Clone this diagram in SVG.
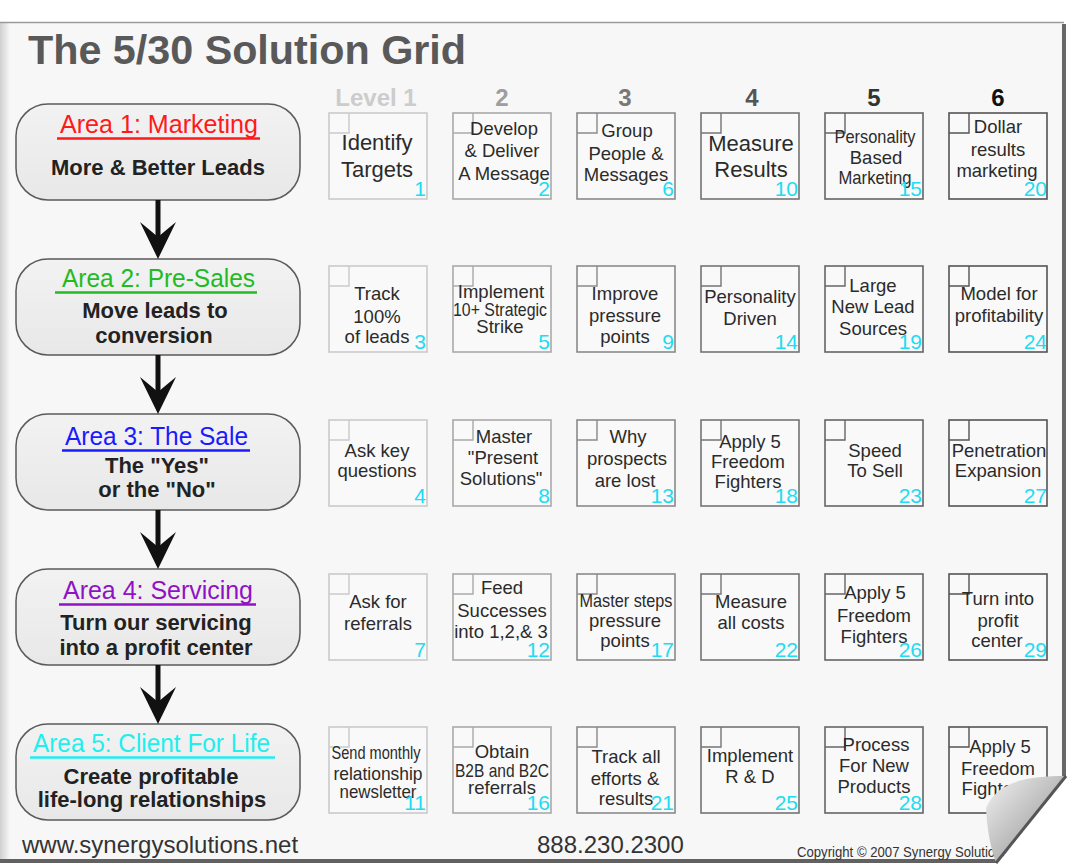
<svg xmlns="http://www.w3.org/2000/svg" width="1072" height="866" viewBox="0 0 1072 866">
<style>
text{font-family:"Liberation Sans",Arial,sans-serif}
.title{font-size:40px;font-weight:bold;fill:#595959}
.lvl{font-size:24px;font-weight:bold;text-anchor:middle}
.abox{fill:url(#boxg);stroke:#5a5a5a;stroke-width:1.5}
.at{font-size:26px;text-anchor:middle}
.sub{font-size:22px;font-weight:bold;fill:#222;text-anchor:middle}
.frame{fill:#f9f9f9;stroke-width:1.6}
.corner{fill:none;stroke-width:1.4}
.ct{font-size:18.5px;fill:#2b2b2b;text-anchor:middle}
.big{font-size:22px}
.num{font-size:21px;fill:#20dcf2;text-anchor:end}
.k1 .frame,.k1 .corner{stroke:#cacaca}
.k2 .frame,.k2 .corner{stroke:#a9a9a9}
.k3 .frame,.k3 .corner{stroke:#8a8a8a}
.k4 .frame,.k4 .corner{stroke:#747474}
.k5 .frame,.k5 .corner{stroke:#656565}
.k6 .frame,.k6 .corner{stroke:#545454}
.foot{font-size:24px;fill:#333}
.conn{stroke:#111;stroke-width:5;fill:none;marker-end:url(#head)}
</style>
<defs>
<linearGradient id="boxg" x1="0" y1="0" x2="0" y2="1">
<stop offset="0" stop-color="#f2f2f2"/><stop offset="1" stop-color="#e8e8e8"/>
</linearGradient>
<linearGradient id="leftg" x1="0" y1="0" x2="1" y2="0">
<stop offset="0" stop-color="#cfcfcf"/><stop offset="1" stop-color="#f7f7f7"/>
</linearGradient>
<linearGradient id="curlg" x1="0" y1="0" x2="1" y2="1">
<stop offset="0" stop-color="#f2f2f2"/><stop offset="0.55" stop-color="#b8b8b8"/><stop offset="1" stop-color="#5e5e5e"/>
</linearGradient>
<marker id="head" markerUnits="userSpaceOnUse" viewBox="-40 -20 42 40" markerWidth="42" markerHeight="40" refX="-20" refY="0" orient="auto" overflow="visible">
<path d="M0,0 L-37,-18 Q-28,-7 -22,0 Q-28,7 -37,18 Z" fill="#111"/>
</marker>
</defs>

<g id="page">
<rect x="0" y="0" width="1072" height="866" fill="#ffffff"/>
<rect x="0" y="22" width="1064" height="840" fill="#f7f7f7"/>
<rect x="0" y="22" width="10" height="840" fill="url(#leftg)"/>
<line x1="0" y1="22.5" x2="1064" y2="22.5" stroke="#9a9a9a" stroke-width="1.5"/>
<rect x="1062" y="24" width="4" height="758" fill="#686868"/>
<rect x="0" y="859" width="998" height="4" fill="#616161"/>
</g>

<text class="title" x="28" y="64" textLength="438" lengthAdjust="spacingAndGlyphs">The 5/30 Solution Grid</text>

<g id="levels">
<text class="lvl" x="376" y="106" fill="#cccccc">Level 1</text>
<text class="lvl" x="502" y="106" fill="#9e9e9e">2</text>
<text class="lvl" x="625" y="106" fill="#787878">3</text>
<text class="lvl" x="752" y="106" fill="#555555">4</text>
<text class="lvl" x="874" y="106" fill="#333333">5</text>
<text class="lvl" x="998" y="106" fill="#111111">6</text>
</g>

<g id="area1">
<rect class="abox" x="16" y="104" width="284" height="96" rx="32"/>
<text class="at" x="159" y="133" fill="#ff1a1a" textLength="198" lengthAdjust="spacingAndGlyphs">Area 1: Marketing</text>
<line x1="57" y1="138.5" x2="260" y2="138.5" stroke="#ff1a1a" stroke-width="2.5"/>
<text class="sub" x="158" y="175">More &amp; Better Leads</text>
</g>
<g id="area2">
<rect class="abox" x="16" y="259" width="284" height="96" rx="32"/>
<text class="at" x="158.5" y="287" fill="#22bb22" textLength="193" lengthAdjust="spacingAndGlyphs">Area 2: Pre-Sales</text>
<line x1="55" y1="292.5" x2="257" y2="292.5" stroke="#22bb22" stroke-width="2.5"/>
<text class="sub" x="155" y="318">Move leads to</text>
<text class="sub" x="154" y="343">conversion</text>
</g>
<g id="area3">
<rect class="abox" x="16" y="414" width="284" height="96" rx="32"/>
<text class="at" x="156.5" y="445" fill="#1a1aff" textLength="183" lengthAdjust="spacingAndGlyphs">Area 3: The Sale</text>
<line x1="62" y1="450.5" x2="250" y2="450.5" stroke="#1a1aff" stroke-width="2.5"/>
<text class="sub" x="157" y="473">The "Yes"</text>
<text class="sub" x="157" y="497">or the "No"</text>
</g>
<g id="area4">
<rect class="abox" x="16" y="569" width="284" height="96" rx="32"/>
<text class="at" x="158" y="599" fill="#9012c4" textLength="190" lengthAdjust="spacingAndGlyphs">Area 4: Servicing</text>
<line x1="59" y1="604.5" x2="256" y2="604.5" stroke="#9012c4" stroke-width="2.5"/>
<text class="sub" x="156" y="630">Turn our servicing</text>
<text class="sub" x="156" y="655">into a profit center</text>
</g>
<g id="area5">
<rect class="abox" x="16" y="724" width="284" height="96" rx="32"/>
<text class="at" x="151.5" y="752" fill="#22eeee" textLength="237" lengthAdjust="spacingAndGlyphs">Area 5: Client For Life</text>
<line x1="30" y1="757.5" x2="275" y2="757.5" stroke="#22eeee" stroke-width="2.5"/>
<text class="sub" x="151" y="784">Create profitable</text>
<text class="sub" x="152" y="807">life-long relationships</text>
</g>

<g id="connectors">
<line class="conn" x1="158" y1="200" x2="158" y2="239"/>
<line class="conn" x1="158" y1="355" x2="158" y2="394"/>
<line class="conn" x1="158" y1="510" x2="158" y2="549"/>
<line class="conn" x1="158" y1="665" x2="158" y2="704"/>
</g>

<!-- Row 1 -->
<g id="cell-1" class="k1"><rect class="frame" x="329" y="113" width="98" height="86"/><path class="corner" d="M329,133 H349 V113"/>
<text class="ct big" x="377" y="150">Identify</text><text class="ct big" x="377" y="177">Targets</text><text class="num" x="426" y="196">1</text></g>
<g id="cell-2" class="k2"><rect class="frame" x="453" y="113" width="98" height="86"/><path class="corner" d="M453,133 H473 V113"/>
<text class="ct" x="504" y="135">Develop</text><text class="ct" x="502" y="157">&amp; Deliver</text><text class="ct" x="504" y="180">A Message</text><text class="num" x="550" y="196">2</text></g>
<g id="cell-6" class="k3"><rect class="frame" x="577" y="113" width="98" height="86"/><path class="corner" d="M577,133 H597 V113"/>
<text class="ct" x="627" y="137">Group</text><text class="ct" x="626" y="160">People &amp;</text><text class="ct" x="626" y="181">Messages</text><text class="num" x="674" y="196">6</text></g>
<g id="cell-10" class="k4"><rect class="frame" x="701" y="113" width="98" height="86"/><path class="corner" d="M701,133 H721 V113"/>
<text class="ct big" x="751" y="151">Measure</text><text class="ct big" x="751" y="177">Results</text><text class="num" x="798" y="196">10</text></g>
<g id="cell-15" class="k5"><rect class="frame" x="825" y="113" width="98" height="86"/><path class="corner" d="M825,133 H845 V113"/>
<text class="ct" x="875" y="143" font-size="17" textLength="81" lengthAdjust="spacingAndGlyphs">Personality</text><text class="ct" x="876" y="164" font-size="17">Based</text><text class="ct" x="875" y="184" font-size="17" textLength="73" lengthAdjust="spacingAndGlyphs">Marketing</text><text class="num" x="922" y="196">15</text></g>
<g id="cell-20" class="k6"><rect class="frame" x="949" y="113" width="98" height="86"/><path class="corner" d="M949,133 H969 V113"/>
<text class="ct" x="998" y="133">Dollar</text><text class="ct" x="998" y="156">results</text><text class="ct" x="997" y="177">marketing</text><text class="num" x="1047" y="196">20</text></g>

<!-- Row 2 -->
<g id="cell-3" class="k1"><rect class="frame" x="329" y="266" width="98" height="86"/><path class="corner" d="M329,286 H349 V266"/>
<text class="ct" x="377" y="300">Track</text><text class="ct" x="377" y="323">100%</text><text class="ct" x="377" y="343">of leads</text><text class="num" x="426" y="349">3</text></g>
<g id="cell-5" class="k2"><rect class="frame" x="453" y="266" width="98" height="86"/><path class="corner" d="M453,286 H473 V266"/>
<text class="ct" x="501" y="298" font-size="16">Implement</text><text class="ct" x="500" y="316" font-size="15.5" textLength="94" lengthAdjust="spacingAndGlyphs">10+ Strategic</text><text class="ct" x="500" y="333" font-size="15.5">Strike</text><text class="num" x="550" y="349">5</text></g>
<g id="cell-9" class="k3"><rect class="frame" x="577" y="266" width="98" height="86"/><path class="corner" d="M577,286 H597 V266"/>
<text class="ct" x="625" y="300">Improve</text><text class="ct" x="625" y="322">pressure</text><text class="ct" x="625" y="343">points</text><text class="num" x="674" y="349">9</text></g>
<g id="cell-14" class="k4"><rect class="frame" x="701" y="266" width="98" height="86"/><path class="corner" d="M701,286 H721 V266"/>
<text class="ct" x="750" y="303">Personality</text><text class="ct" x="750" y="325">Driven</text><text class="num" x="798" y="349">14</text></g>
<g id="cell-19" class="k5"><rect class="frame" x="825" y="266" width="98" height="86"/><path class="corner" d="M825,286 H845 V266"/>
<text class="ct" x="873" y="292">Large</text><text class="ct" x="873" y="313">New Lead</text><text class="ct" x="873" y="335">Sources</text><text class="num" x="922" y="349">19</text></g>
<g id="cell-24" class="k6"><rect class="frame" x="949" y="266" width="98" height="86"/><path class="corner" d="M949,286 H969 V266"/>
<text class="ct" x="999" y="300">Model for</text><text class="ct" x="999" y="322">profitability</text><text class="num" x="1047" y="349">24</text></g>

<!-- Row 3 -->
<g id="cell-4" class="k1"><rect class="frame" x="329" y="420" width="98" height="86"/><path class="corner" d="M329,440 H349 V420"/>
<text class="ct" x="377" y="457">Ask key</text><text class="ct" x="377" y="477">questions</text><text class="num" x="426" y="503">4</text></g>
<g id="cell-8" class="k2"><rect class="frame" x="453" y="420" width="98" height="86"/><path class="corner" d="M453,440 H473 V420"/>
<text class="ct" x="504" y="443">Master</text><text class="ct" x="503" y="464">"Present</text><text class="ct" x="501" y="485">Solutions"</text><text class="num" x="550" y="503">8</text></g>
<g id="cell-13" class="k3"><rect class="frame" x="577" y="420" width="98" height="86"/><path class="corner" d="M577,440 H597 V420"/>
<text class="ct" x="628" y="443">Why</text><text class="ct" x="627" y="465">prospects</text><text class="ct" x="625" y="487">are lost</text><text class="num" x="674" y="503">13</text></g>
<g id="cell-18" class="k4"><rect class="frame" x="701" y="420" width="98" height="86"/><path class="corner" d="M701,440 H721 V420"/>
<text class="ct" x="750" y="448">Apply 5</text><text class="ct" x="748" y="468">Freedom</text><text class="ct" x="748" y="488">Fighters</text><text class="num" x="798" y="503">18</text></g>
<g id="cell-23" class="k5"><rect class="frame" x="825" y="420" width="98" height="86"/><path class="corner" d="M825,440 H845 V420"/>
<text class="ct" x="875" y="457">Speed</text><text class="ct" x="875" y="477">To Sell</text><text class="num" x="922" y="503">23</text></g>
<g id="cell-27" class="k6"><rect class="frame" x="949" y="420" width="98" height="86"/><path class="corner" d="M949,440 H969 V420"/>
<text class="ct" x="999" y="457">Penetration</text><text class="ct" x="998" y="477">Expansion</text><text class="num" x="1047" y="503">27</text></g>

<!-- Row 4 -->
<g id="cell-7" class="k1"><rect class="frame" x="329" y="574" width="98" height="86"/><path class="corner" d="M329,594 H349 V574"/>
<text class="ct" x="378" y="608">Ask for</text><text class="ct" x="378" y="630">referrals</text><text class="num" x="426" y="657">7</text></g>
<g id="cell-12" class="k2"><rect class="frame" x="453" y="574" width="98" height="86"/><path class="corner" d="M453,594 H473 V574"/>
<text class="ct" x="502" y="594">Feed</text><text class="ct" x="502" y="617">Successes</text><text class="ct" x="501" y="638">into 1,2,&amp; 3</text><text class="num" x="550" y="657">12</text></g>
<g id="cell-17" class="k3"><rect class="frame" x="577" y="574" width="98" height="86"/><path class="corner" d="M577,594 H597 V574"/>
<text class="ct" x="626" y="607" font-size="16" textLength="93" lengthAdjust="spacingAndGlyphs">Master steps</text><text class="ct" x="625" y="627">pressure</text><text class="ct" x="625" y="647">points</text><text class="num" x="674" y="657">17</text></g>
<g id="cell-22" class="k4"><rect class="frame" x="701" y="574" width="98" height="86"/><path class="corner" d="M701,594 H721 V574"/>
<text class="ct" x="751" y="608">Measure</text><text class="ct" x="751" y="629">all costs</text><text class="num" x="798" y="657">22</text></g>
<g id="cell-26" class="k5"><rect class="frame" x="825" y="574" width="98" height="86"/><path class="corner" d="M825,594 H845 V574"/>
<text class="ct" x="875" y="599">Apply 5</text><text class="ct" x="874" y="622">Freedom</text><text class="ct" x="874" y="643">Fighters</text><text class="num" x="922" y="657">26</text></g>
<g id="cell-29" class="k6"><rect class="frame" x="949" y="574" width="98" height="86"/><path class="corner" d="M949,594 H969 V574"/>
<text class="ct" x="998" y="605">Turn into</text><text class="ct" x="998" y="627">profit</text><text class="ct" x="997" y="647">center</text><text class="num" x="1047" y="657">29</text></g>

<!-- Row 5 -->
<g id="cell-11" class="k1"><rect class="frame" x="329" y="727" width="98" height="86"/><path class="corner" d="M329,747 H349 V727"/>
<text class="ct" x="376" y="759" font-size="16" textLength="89" lengthAdjust="spacingAndGlyphs">Send monthly</text><text class="ct" x="378" y="780" font-size="17" textLength="89" lengthAdjust="spacingAndGlyphs">relationship</text><text class="ct" x="378" y="798" font-size="17" textLength="77" lengthAdjust="spacingAndGlyphs">newsletter</text><text class="num" x="426" y="810">11</text></g>
<g id="cell-16" class="k2"><rect class="frame" x="453" y="727" width="98" height="86"/><path class="corner" d="M453,747 H473 V727"/>
<text class="ct" x="502" y="758" font-size="15.5">Obtain</text><text class="ct" x="502" y="777" font-size="15.5" textLength="94" lengthAdjust="spacingAndGlyphs">B2B and B2C</text><text class="ct" x="502" y="794" font-size="15.5">referrals</text><text class="num" x="550" y="810">16</text></g>
<g id="cell-21" class="k3"><rect class="frame" x="577" y="727" width="98" height="86"/><path class="corner" d="M577,747 H597 V727"/>
<text class="ct" x="626" y="763">Track all</text><text class="ct" x="625" y="785">efforts &amp;</text><text class="ct" x="626" y="805">results</text><text class="num" x="674" y="810">21</text></g>
<g id="cell-25" class="k4"><rect class="frame" x="701" y="727" width="98" height="86"/><path class="corner" d="M701,747 H721 V727"/>
<text class="ct" x="750" y="762">Implement</text><text class="ct" x="750" y="783">R &amp; D</text><text class="num" x="798" y="810">25</text></g>
<g id="cell-28" class="k5"><rect class="frame" x="825" y="727" width="98" height="86"/><path class="corner" d="M825,747 H845 V727"/>
<text class="ct" x="876" y="751">Process</text><text class="ct" x="874" y="772">For New</text><text class="ct" x="874" y="793">Products</text><text class="num" x="922" y="810">28</text></g>
<g id="cell-30" class="k6"><rect class="frame" x="949" y="727" width="98" height="86"/><path class="corner" d="M949,747 H969 V727"/>
<text class="ct" x="1000" y="753">Apply 5</text><text class="ct" x="998" y="775">Freedom</text><text class="ct" x="995" y="795">Fighters</text></g>

<g id="footer">
<text class="foot" x="22" y="853">www.synergysolutions.net</text>
<text class="foot" x="537" y="853">888.230.2300</text>
<text x="797" y="857" font-size="15" fill="#333" textLength="212" lengthAdjust="spacingAndGlyphs">Copyright © 2007 Synergy Solutions</text>
</g>

<g id="curl">
<path d="M996,866 L1066,776 L1072,776 L1072,866 Z" fill="#ffffff"/>
<path d="M996,863 L1066,776 C1025,776 997,782 986,808 C987,828 990,846 996,863 Z" fill="url(#curlg)"/>
<path d="M996,863 L1066,776" stroke="#555" stroke-width="3" fill="none"/>
</g>
</svg>
